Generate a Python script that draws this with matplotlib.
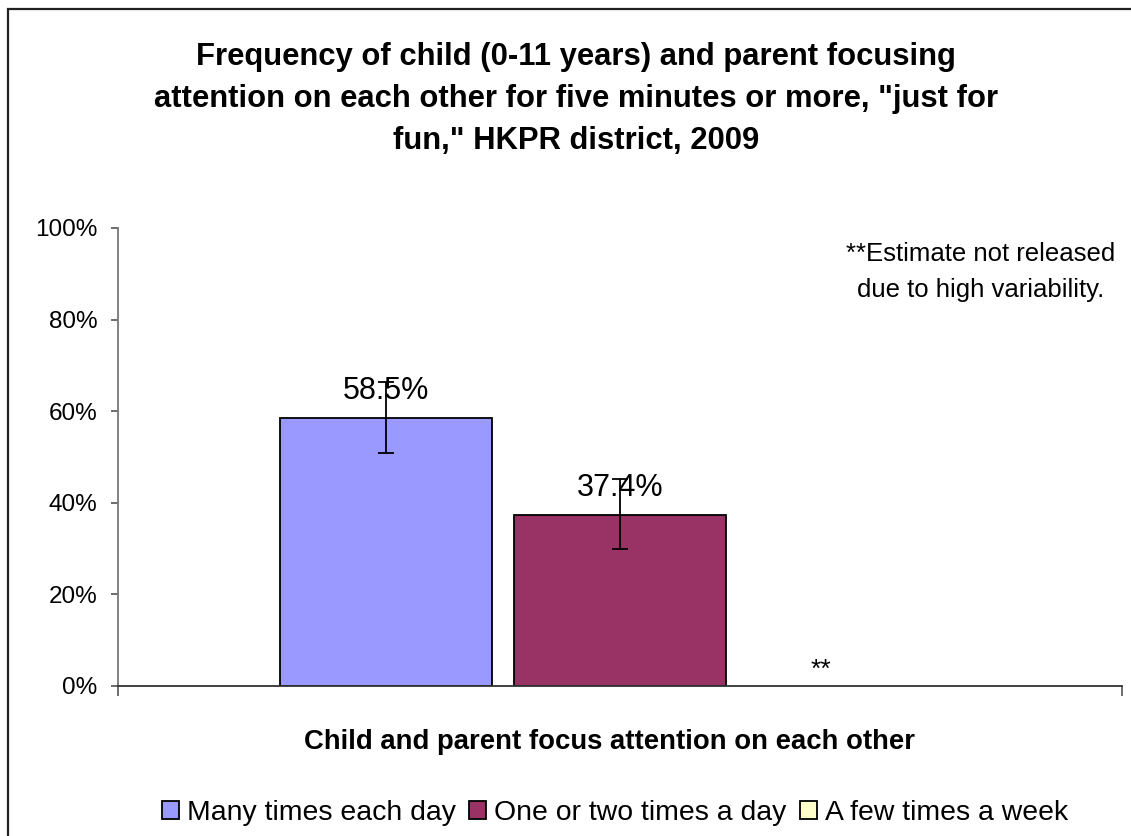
import numpy as np
import matplotlib
matplotlib.use("Agg")
import matplotlib.pyplot as plt
from matplotlib.patches import Rectangle
from matplotlib.ticker import FuncFormatter

plt.rcParams['font.family'] = ['Liberation Sans', 'DejaVu Sans']

# ---- data ----
series = ['Many times each day', 'One or two times a day', 'A few times a week']
values = [58.5, 37.4, np.nan]           # third estimate not released
err_low = [7.6, 7.5, 0.0]
err_high = [7.8, 7.8, 0.0]
value_labels = ['58.5%', '37.4%', '']
colors = ['#9999FF', '#993366', '#FFFFCC']
yticks = [0, 20, 40, 60, 80, 100]
title = ('Frequency of child (0-11 years) and parent focusing\n'
         'attention on each other for five minutes or more, "just for\n'
         'fun," HKPR district, 2009')
xlabel = 'Child and parent focus attention on each other'
note = '**Estimate not released\ndue to high variability.'

W, H = 1131, 836
fig = plt.figure(figsize=(W / 100, H / 100), dpi=100)
fig.patch.set_facecolor('white')

# outer frame (cropped at right/bottom as in the reference)
fig.patches.append(Rectangle((8 / W, -0.05), 1.2, 1 - 9 / H + 0.05,
                             transform=fig.transFigure, fill=False,
                             edgecolor='#222222', linewidth=1.6))

ax = fig.add_axes([118 / W, (H - 686) / H, 1004 / W, 458 / H])
ax.set_facecolor('white')

width = 0.212
step = 0.233
offsets = [(i - 1) * step for i in range(len(series))]

for i, (name, v) in enumerate(zip(series, values)):
    ax.bar(offsets[i], v, width=width, color=colors[i], edgecolor='black',
           linewidth=1.3, label=name, zorder=2)
    if not np.isnan(v):
        ax.errorbar(offsets[i], v, yerr=[[err_low[i]], [err_high[i]]],
                    fmt='none', ecolor='black', elinewidth=1.3, capsize=5.5,
                    capthick=1.3, zorder=3)
        ax.annotate(value_labels[i], (offsets[i], v), xytext=(0, 13.7),
                    textcoords='offset points', ha='center', va='baseline',
                    fontsize=22, zorder=4)

# not-released marker
ax.text(offsets[2] - 0.033, 2.0, '**', ha='center', va='baseline', fontsize=19)

ax.set_xlim(-0.5, 0.5)
ax.set_ylim(0, 100)
ax.set_yticks(yticks)
ax.yaxis.set_major_formatter(FuncFormatter(lambda v, p: f'{v:.0f}%'))
ax.set_xticks([-0.5, 0.5])
ax.set_xticklabels(['', ''])
ax.tick_params(axis='y', direction='out', length=5, width=1.2, color='#555555',
               labelsize=17.5, pad=10)
ax.tick_params(axis='x', direction='out', length=7, width=1.2, color='#555555')
for s in ['top', 'right']:
    ax.spines[s].set_visible(False)
ax.spines['left'].set_color('#777777')
ax.spines['left'].set_linewidth(1.3)
ax.spines['bottom'].set_color('#333333')
ax.spines['bottom'].set_linewidth(1.3)

fig.text(576 / W, 1 - 99 / H, title, ha='center', va='center', fontsize=22.3,
         fontweight='bold', linespacing=1.5)
fig.text(981 / W, 1 - 272 / H, note, ha='center', va='center', fontsize=18.5,
         linespacing=1.6)
fig.text(609 / W, 1 - 742 / H, xlabel, ha='center', va='center', fontsize=19.8,
         fontweight='bold')

handles, labels = ax.get_legend_handles_labels()
fig.legend(handles, labels, loc='center', bbox_to_anchor=(615 / W, 1 - 813 / H),
           ncol=3, frameon=False, fontsize=20.4, handlelength=0.6,
           handleheight=0.6, handletextpad=0.28, columnspacing=0.46,
           borderpad=0, borderaxespad=0)

fig.savefig('out.png', dpi=100, facecolor='white')
